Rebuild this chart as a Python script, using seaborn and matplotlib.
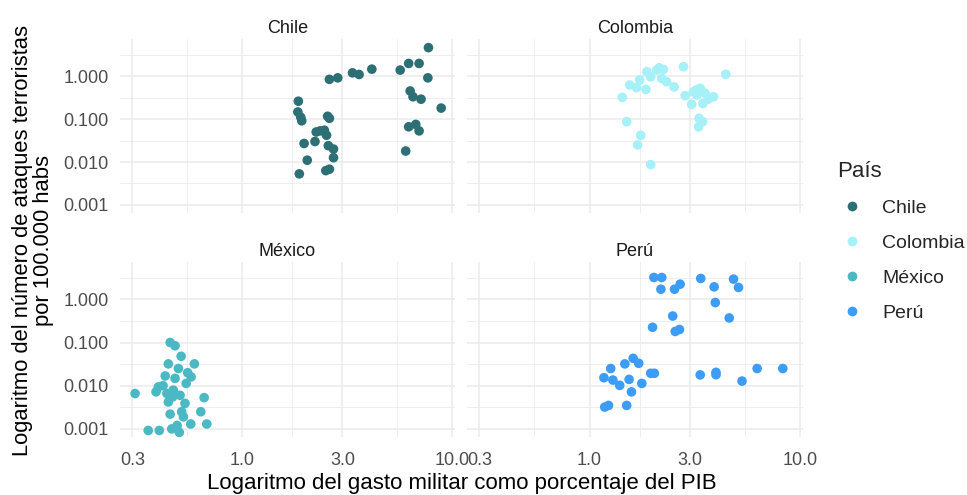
import numpy as np
import pandas as pd
import matplotlib
matplotlib.use("Agg")
import matplotlib.pyplot as plt
from matplotlib.lines import Line2D
import seaborn as sns

paises = ["Chile", "Colombia", "México", "Perú"]
colores = ["#2C6F74", "#A6F0F7", "#4AB9C4", "#3D9CF6"]

chile_gasto = [7.7, 6.2, 6.95, 5.65, 7.65, 4.14, 3.35, 3.6, 2.85, 2.6, 6.3, 6.5, 7.1, 8.85,
               1.85, 1.84, 1.9, 1.92, 2.55, 2.6, 2.25, 2.35, 2.46, 2.52, 2.22, 1.97, 2.57,
               2.72, 2.72, 2.04, 2.5, 2.6, 1.87, 6.0, 6.2, 6.7, 6.95]
chile_ataques = [4.6, 1.97, 1.97, 1.38, 0.91, 1.45, 1.19, 1.09, 0.91, 0.84, 0.45, 0.33, 0.29, 0.18,
                 0.26, 0.146, 0.11, 0.091, 0.116, 0.104, 0.05, 0.053, 0.055, 0.042, 0.030, 0.027, 0.024,
                 0.020, 0.0126, 0.011, 0.0063, 0.0068, 0.0053, 0.018, 0.066, 0.075, 0.053]

colombia_gasto = [2.79, 4.43, 2.14, 2.24, 2.08, 1.87, 1.95, 2.2, 2.32, 2.52, 1.73, 1.55, 1.67, 1.85,
                  1.43, 2.84, 3.11, 3.35, 3.23, 3.53, 3.87, 3.05, 3.45, 3.66, 3.31, 3.44, 3.29,
                  1.5, 1.75, 1.69, 1.95, 3.2]
colombia_ataques = [1.65, 1.1, 1.56, 1.43, 1.38, 1.26, 0.96, 0.88, 0.74, 0.56, 0.81, 0.62, 0.54, 0.49,
                    0.32, 0.35, 0.43, 0.52, 0.36, 0.40, 0.33, 0.22, 0.23, 0.29, 0.104, 0.087, 0.066,
                    0.087, 0.042, 0.025, 0.0087, 0.47]

mexico_gasto = [0.309, 0.357, 0.403, 0.454, 0.479, 0.512, 0.445, 0.592, 0.497, 0.43, 0.571, 0.541,
                0.399, 0.389, 0.438, 0.47, 0.506, 0.445, 0.534, 0.659, 0.635, 0.454, 0.515, 0.525,
                0.569, 0.678, 0.462, 0.502, 0.49, 0.479, 0.466, 0.42, 0.55]
mexico_ataques = [0.0066, 0.00092, 0.00092, 0.1, 0.084, 0.048, 0.032, 0.032, 0.025, 0.0168, 0.016, 0.0113,
                  0.0094, 0.0072, 0.0066, 0.0079, 0.006, 0.0042, 0.0039, 0.0053, 0.0025, 0.0022, 0.0025, 0.0019,
                  0.0013, 0.0013, 0.001, 0.00083, 0.0012, 0.0148, 0.0055, 0.01, 0.02]

peru_gasto = [2.02, 2.2, 2.18, 2.53, 2.69, 3.37, 3.9, 4.82, 5.09, 3.95, 2.48, 4.6, 1.99, 2.55, 2.67,
              1.61, 1.47, 1.71, 1.26, 1.17, 1.29, 1.39, 1.54, 1.77, 1.95, 2.03, 1.58, 1.18, 1.23, 1.5,
              3.35, 3.98, 6.24, 8.26, 5.29, 3.98]
peru_ataques = [3.2, 3.2, 1.71, 1.71, 2.24, 3.04, 1.94, 2.93, 1.88, 0.84, 0.41, 0.37, 0.225, 0.18, 0.2,
                0.043, 0.032, 0.033, 0.025, 0.0153, 0.0135, 0.0102, 0.014, 0.0113, 0.0194, 0.0194, 0.0072,
                0.0032, 0.0035, 0.0035, 0.0178, 0.0204, 0.025, 0.025, 0.0128, 0.018]

x_ticks = [0.3, 1.0, 3.0, 10.0]
x_ticklabels = ["0.3", "1.0", "3.0", "10.0"]
y_ticks = [0.001, 0.01, 0.1, 1.0]
y_ticklabels = ["0.001", "0.010", "0.100", "1.000"]

datos = {
    "Chile": (chile_gasto, chile_ataques),
    "Colombia": (colombia_gasto, colombia_ataques),
    "México": (mexico_gasto, mexico_ataques),
    "Perú": (peru_gasto, peru_ataques),
}
frames = []
for p in paises:
    g, a = datos[p]
    frames.append(pd.DataFrame({"gasto": g, "ataques": a, "pais": p}))
df = pd.concat(frames, ignore_index=True)

sns.set_theme(style="white")
plt.rcParams["font.family"] = ["Liberation Sans", "DejaVu Sans"]

fig = plt.figure(figsize=(9.67, 4.95), dpi=100)
W, H = 967, 495
panel_px = {
    "Chile": (120, 39, 455, 213),
    "Colombia": (467, 39, 803, 213),
    "México": (120, 262, 455, 437),
    "Perú": (467, 262, 803, 437),
}
pal = dict(zip(paises, colores))
grid_c = "#EBEBEB"
txt_c = "#4D4D4D"

for i, p in enumerate(paises):
    l, t, r, b = panel_px[p]
    ax = fig.add_axes([l / W, 1 - b / H, (r - l) / W, (b - t) / H])
    ax.set_xscale("log")
    ax.set_yscale("log")
    ax.set_xlim(0.262, 10.3)
    ax.set_ylim(0.00065, 7.3)
    xmin = np.sqrt(np.array(x_ticks[:-1]) * np.array(x_ticks[1:]))
    ymin = np.sqrt(np.array(y_ticks) * np.array(y_ticks) * 10)
    for v in x_ticks:
        ax.axvline(v, color=grid_c, lw=1.1, zorder=0)
    for v in xmin:
        ax.axvline(v, color=grid_c, lw=0.6, zorder=0)
    for v in y_ticks:
        ax.axhline(v, color=grid_c, lw=1.1, zorder=0)
    for v in ymin:
        ax.axhline(v, color=grid_c, lw=0.6, zorder=0)
    sub = df[df["pais"] == p]
    sns.scatterplot(data=sub, x="gasto", y="ataques", hue="pais", palette=pal,
                    s=48, linewidth=0, ax=ax, legend=False, zorder=3)
    ax.set_xticks(x_ticks)
    ax.set_yticks(y_ticks)
    ax.minorticks_off()
    ax.set_xticks([], minor=True)
    ax.set_yticks([], minor=True)
    ax.tick_params(length=0, labelsize=13, colors=txt_c)
    ax.tick_params(axis="x", pad=11)
    ax.tick_params(axis="y", pad=8)
    if i in (2, 3):
        ax.set_xticklabels(x_ticklabels)
    else:
        ax.set_xticklabels([])
    if i in (0, 2):
        ax.set_yticklabels(y_ticklabels)
    else:
        ax.set_yticklabels([])
    ax.set_xlabel("")
    ax.set_ylabel("")
    for s in ax.spines.values():
        s.set_visible(False)
    ax.set_title(p, fontsize=13, color="#1A1A1A", pad=4)

fig.text(462 / W, 1 - 484 / H, "Logaritmo del gasto militar como porcentaje del PIB",
         ha="center", va="center", fontsize=16, color="black")
fig.text(33 / W, 1 - 240 / H, "Logaritmo del número de ataques terroristas\npor 100.000 habs",
         ha="center", va="center", rotation=90, fontsize=15.8, color="black",
         multialignment="center", linespacing=0.95)

handles = [Line2D([0], [0], marker="o", color="none", markerfacecolor=c,
                  markeredgecolor="none", markersize=7) for c in colores]
leg = fig.legend(handles, paises, title="País", loc="upper left",
                 bbox_to_anchor=(829 / W, 1 - 153 / H), frameon=False,
                 fontsize=14, title_fontsize=16, labelspacing=0.9,
                 handlelength=1.6, handletextpad=0.75, borderaxespad=0)
leg._legend_box.align = "left"

fig.savefig("out.png", dpi=100)
